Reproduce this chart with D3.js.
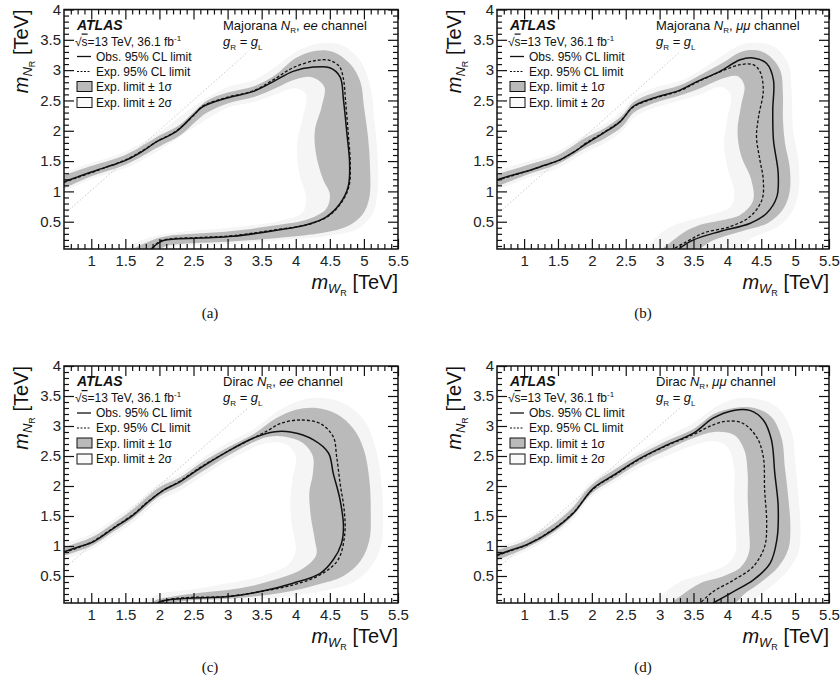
<!DOCTYPE html>
<html><head><meta charset="utf-8">
<script src="https://cdn.jsdelivr.net/npm/d3@7"></script>
<style>body{margin:0;background:#fff}svg{display:block}</style>
</head><body>
<svg id="c" width="840" height="686"></svg>
<script>
// ---------------- data ----------------
const xTicks = [1,1.5,2,2.5,3,3.5,4,4.5,5,5.5];
const yTicks = [0.5,1,1.5,2,2.5,3,3.5,4];
const panelLabels = ["(a)","(b)","(c)","(d)"];
const typeLabels = ["Majorana","Majorana","Dirac","Dirac"];
const channelLabels = ["ee","μμ","ee","μμ"];
const diagonal = [[0.6,0.62],[3.3,3.3]];

// (a) Majorana ee
const obsA = [[0.6,1.16],[0.8,1.24],[1.08,1.35],[1.3,1.43],[1.52,1.52],[1.75,1.66],[1.96,1.82],[2.25,1.99],[2.5,2.26],[2.64,2.40],[2.99,2.54],[3.38,2.65],[3.67,2.81],[3.96,2.98],[4.26,3.05],[4.5,3.04],[4.65,2.89],[4.70,2.51],[4.75,1.96],[4.79,1.46],[4.77,1.08],[4.65,0.80],[4.45,0.58],[4.16,0.45],[3.72,0.36],[3.08,0.26],[2.6,0.23],[2.06,0.19],[1.95,0.12],[1.88,0.05]];
const expA = [[0.6,1.15],[0.8,1.23],[1.08,1.34],[1.3,1.43],[1.52,1.53],[1.75,1.67],[1.96,1.82],[2.25,2.0],[2.5,2.25],[2.64,2.41],[2.99,2.55],[3.38,2.66],[3.67,2.84],[3.96,3.04],[4.3,3.16],[4.5,3.16],[4.64,3.06],[4.70,2.85],[4.73,2.5],[4.77,1.96],[4.8,1.46],[4.78,1.08],[4.66,0.8],[4.46,0.58],[4.17,0.45],[3.72,0.37],[3.08,0.27],[2.6,0.24],[2.06,0.2],[1.95,0.13],[1.9,0.05]];
const band1OuterA = [[0.6,1.27],[1.0,1.42],[1.5,1.6],[2.0,1.92],[2.3,2.1],[2.55,2.36],[2.7,2.5],[3.0,2.63],[3.4,2.74],[3.7,2.92],[4.0,3.2],[4.3,3.32],[4.55,3.3],[4.8,3.1],[4.95,2.8],[5.0,2.4],[5.06,1.9],[5.09,1.4],[5.08,0.9],[4.98,0.62],[4.75,0.42],[4.4,0.32],[3.8,0.24],[3.0,0.17],[2.4,0.14],[2.1,0.1],[2.0,0.05]];
const band1InnerA = [[0.6,1.05],[1.0,1.25],[1.5,1.44],[2.0,1.74],[2.3,1.92],[2.55,2.17],[2.7,2.3],[3.0,2.45],[3.4,2.56],[3.7,2.7],[4.0,2.85],[4.25,2.88],[4.42,2.72],[4.38,2.4],[4.28,2.0],[4.3,1.6],[4.4,1.2],[4.5,0.95],[4.45,0.72],[4.2,0.55],[3.7,0.44],[3.0,0.34],[2.5,0.3],[2.1,0.26],[1.9,0.2],[1.7,0.1],[1.62,0.05]];
const band2OuterA = [[0.6,1.32],[1.0,1.47],[1.5,1.66],[2.0,1.98],[2.5,2.4],[3.0,2.72],[3.4,2.84],[3.7,3.05],[4.0,3.3],[4.4,3.45],[4.7,3.4],[4.95,3.15],[5.1,2.7],[5.15,2.2],[5.2,1.6],[5.2,1.0],[5.12,0.62],[4.9,0.38],[4.5,0.27],[3.8,0.2],[3.0,0.13],[2.3,0.1],[2.05,0.05]];
const band2InnerA = [[0.6,1.0],[1.0,1.2],[1.5,1.38],[2.0,1.68],[2.5,2.05],[3.0,2.38],[3.4,2.48],[3.7,2.6],[4.0,2.7],[4.15,2.6],[4.1,2.2],[4.02,1.8],[4.05,1.3],[4.15,0.9],[4.1,0.65],[3.8,0.52],[3.0,0.4],[2.3,0.33],[1.9,0.25],[1.6,0.12],[1.52,0.05]];

// (b) Majorana mumu
const obsB = [[0.6,1.19],[0.8,1.26],[1.09,1.35],[1.3,1.43],[1.53,1.52],[1.75,1.66],[1.92,1.79],[2.17,1.96],[2.42,2.15],[2.61,2.40],[2.91,2.54],[3.30,2.67],[3.55,2.81],[3.89,2.98],[4.19,3.17],[4.38,3.20],[4.58,3.11],[4.68,2.84],[4.67,2.34],[4.68,1.85],[4.75,1.30],[4.73,0.91],[4.58,0.64],[4.33,0.47],[3.89,0.34],[3.50,0.20],[3.28,0.05]];
const expB = [[0.6,1.18],[0.8,1.25],[1.09,1.35],[1.3,1.43],[1.53,1.52],[1.75,1.66],[1.92,1.8],[2.17,1.97],[2.42,2.16],[2.61,2.39],[2.91,2.53],[3.30,2.66],[3.55,2.8],[3.89,2.97],[4.19,3.09],[4.38,3.09],[4.48,2.98],[4.53,2.67],[4.46,2.23],[4.43,1.90],[4.48,1.52],[4.53,1.19],[4.51,0.86],[4.33,0.58],[4.04,0.42],[3.64,0.31],[3.35,0.14],[3.2,0.05]];
const band1OuterB = [[0.6,1.28],[1.0,1.42],[1.5,1.6],[1.9,1.88],[2.2,2.05],[2.45,2.26],[2.62,2.48],[2.9,2.62],[3.3,2.75],[3.6,2.92],[3.9,3.1],[4.2,3.3],[4.4,3.33],[4.6,3.25],[4.78,3.0],[4.82,2.6],[4.82,2.2],[4.85,1.8],[4.92,1.4],[4.92,1.0],[4.82,0.7],[4.6,0.48],[4.2,0.34],[3.8,0.2],[3.55,0.05]];
const band1InnerB = [[0.6,1.08],[1.0,1.26],[1.5,1.45],[1.9,1.71],[2.2,1.88],[2.45,2.07],[2.62,2.3],[2.9,2.45],[3.3,2.58],[3.6,2.7],[3.9,2.85],[4.15,2.9],[4.25,2.75],[4.2,2.4],[4.15,2.0],[4.2,1.6],[4.35,1.2],[4.38,0.85],[4.2,0.62],[3.9,0.52],[3.6,0.45],[3.35,0.32],[3.15,0.15],[3.05,0.05]];
const band2OuterB = [[0.6,1.34],[1.0,1.48],[1.5,1.66],[1.9,1.94],[2.2,2.12],[2.45,2.33],[2.62,2.55],[2.9,2.7],[3.3,2.82],[3.6,3.0],[3.9,3.22],[4.2,3.42],[4.45,3.45],[4.7,3.38],[4.9,3.1],[4.95,2.6],[4.97,2.0],[5.05,1.5],[5.05,1.0],[4.95,0.65],[4.75,0.42],[4.4,0.25],[4.1,0.05]];
const band2InnerB = [[0.6,1.02],[1.0,1.2],[1.5,1.38],[1.9,1.64],[2.2,1.8],[2.45,2.0],[2.62,2.22],[2.9,2.37],[3.3,2.5],[3.6,2.6],[3.9,2.72],[4.05,2.6],[4.0,2.2],[3.95,1.8],[4.0,1.4],[4.1,1.0],[4.05,0.75],[3.7,0.6],[3.3,0.48],[3.0,0.3],[2.85,0.05]];

// (c) Dirac ee
const obsC = [[0.6,0.905],[0.8,0.98],[1.03,1.07],[1.32,1.29],[1.62,1.52],[1.81,1.71],[2.06,1.93],[2.30,2.07],[2.60,2.30],[2.99,2.57],[3.38,2.80],[3.67,2.90],[3.92,2.90],[4.26,2.77],[4.48,2.55],[4.55,2.21],[4.65,1.77],[4.70,1.32],[4.67,1.04],[4.55,0.77],[4.36,0.545],[3.96,0.38],[3.48,0.24],[2.99,0.155],[2.40,0.13],[2.06,0.09],[1.97,0.05]];
const expC = [[0.6,0.89],[0.8,0.97],[1.03,1.08],[1.32,1.3],[1.62,1.53],[1.81,1.72],[2.06,1.93],[2.30,2.08],[2.60,2.31],[2.99,2.57],[3.38,2.80],[3.6,2.93],[3.77,3.04],[4.06,3.10],[4.36,3.04],[4.55,2.82],[4.60,2.49],[4.65,2.05],[4.71,1.60],[4.72,1.21],[4.62,0.77],[4.36,0.52],[3.96,0.35],[3.48,0.24],[2.99,0.16],[2.40,0.14],[2.1,0.1],[2.0,0.05]];
const band1OuterC = [[0.6,0.98],[1.0,1.14],[1.3,1.36],[1.6,1.6],[2.0,1.98],[2.3,2.14],[2.6,2.38],[3.0,2.64],[3.4,2.88],[3.7,3.12],[4.0,3.27],[4.3,3.3],[4.6,3.2],[4.85,2.95],[5.0,2.6],[5.08,2.1],[5.1,1.6],[5.08,1.1],[4.95,0.75],[4.7,0.5],[4.3,0.35],[3.8,0.22],[3.0,0.12],[2.5,0.1],[2.1,0.05]];
const band1InnerC = [[0.6,0.84],[1.0,1.0],[1.3,1.22],[1.6,1.45],[2.0,1.83],[2.3,2.0],[2.6,2.22],[3.0,2.5],[3.4,2.74],[3.6,2.82],[3.85,2.82],[4.1,2.72],[4.25,2.5],[4.25,2.2],[4.2,1.9],[4.22,1.5],[4.28,1.1],[4.3,0.85],[4.1,0.62],[3.7,0.44],[3.2,0.3],[2.6,0.22],[2.2,0.16],[1.95,0.1],[1.9,0.05]];
const band2OuterC = [[0.6,1.04],[1.0,1.2],[1.3,1.42],[1.6,1.66],[2.0,2.04],[2.3,2.2],[2.6,2.44],[3.0,2.72],[3.4,2.96],[3.7,3.22],[4.0,3.4],[4.3,3.47],[4.7,3.38],[5.0,3.1],[5.18,2.6],[5.26,2.0],[5.28,1.5],[5.25,1.0],[5.1,0.65],[4.85,0.4],[4.4,0.25],[3.8,0.15],[3.0,0.08],[2.4,0.05]];
const band2InnerC = [[0.6,0.78],[1.0,0.94],[1.3,1.16],[1.6,1.38],[2.0,1.76],[2.3,1.92],[2.6,2.14],[3.0,2.42],[3.4,2.65],[3.6,2.72],[3.85,2.7],[4.0,2.5],[3.95,2.1],[3.92,1.7],[3.95,1.3],[4.0,0.95],[3.9,0.7],[3.5,0.5],[3.0,0.38],[2.5,0.28],[2.0,0.2],[1.75,0.05]];

// (d) Dirac mumu
const obsD = [[0.6,0.85],[0.8,0.93],[1.04,1.02],[1.43,1.27],[1.73,1.55],[2.02,1.96],[2.32,2.18],[2.71,2.46],[3.10,2.68],[3.50,2.88],[3.79,3.13],[4.09,3.26],[4.33,3.26],[4.53,3.10],[4.65,2.77],[4.70,2.21],[4.75,1.655],[4.73,1.10],[4.63,0.71],[4.38,0.43],[4.09,0.24],[3.79,0.05]];
const expD = [[0.6,0.84],[0.8,0.92],[1.04,1.02],[1.43,1.28],[1.73,1.56],[2.02,1.95],[2.32,2.17],[2.71,2.45],[3.10,2.67],[3.50,2.86],[3.79,3.02],[3.99,3.08],[4.22,3.05],[4.43,2.82],[4.53,2.49],[4.55,1.93],[4.58,1.38],[4.55,0.99],[4.38,0.655],[4.09,0.43],[3.79,0.24],[3.6,0.05]];
const band1OuterD = [[0.6,0.93],[1.0,1.08],[1.4,1.34],[1.7,1.62],[2.0,2.02],[2.3,2.25],[2.7,2.52],[3.1,2.75],[3.5,2.95],[3.8,3.2],[4.1,3.3],[4.4,3.3],[4.65,3.15],[4.8,2.8],[4.85,2.3],[4.9,1.8],[4.93,1.3],[4.9,0.95],[4.75,0.65],[4.5,0.4],[4.25,0.2],[4.1,0.05]];
const band1InnerD = [[0.6,0.77],[1.0,0.95],[1.4,1.2],[1.7,1.48],[2.0,1.88],[2.3,2.1],[2.7,2.38],[3.1,2.6],[3.5,2.8],[3.8,2.9],[4.1,2.85],[4.25,2.6],[4.3,2.2],[4.3,1.8],[4.32,1.3],[4.32,0.9],[4.2,0.65],[3.95,0.5],[3.6,0.38],[3.35,0.2],[3.2,0.05]];
const band2OuterD = [[0.6,0.98],[1.0,1.13],[1.4,1.4],[1.7,1.68],[2.0,2.08],[2.3,2.3],[2.7,2.58],[3.1,2.82],[3.5,3.05],[3.8,3.3],[4.1,3.45],[4.45,3.45],[4.75,3.3],[4.95,2.9],[5.0,2.4],[5.05,1.8],[5.08,1.3],[5.05,0.9],[4.9,0.6],[4.7,0.38],[4.45,0.15],[4.35,0.05]];
const band2InnerD = [[0.6,0.72],[1.0,0.9],[1.4,1.14],[1.7,1.42],[2.0,1.82],[2.3,2.04],[2.7,2.3],[3.1,2.5],[3.5,2.68],[3.8,2.75],[4.0,2.65],[4.1,2.3],[4.1,1.8],[4.12,1.3],[4.12,0.9],[4.0,0.7],[3.7,0.55],[3.3,0.4],[3.05,0.2],[2.95,0.05]];

// ---------------- layout ----------------
const frames = [
  {x0:64, x1:398, y0:9.5, y1:249},
  {x0:497, x1:829, y0:9.5, y1:249},
  {x0:64, x1:398, y0:366, y1:603},
  {x0:497, x1:829, y0:366, y1:603}
];
const panels = [
  {obs:obsA, exp:expA, b1o:band1OuterA, b1i:band1InnerA, b2o:band2OuterA, b2i:band2InnerA},
  {obs:obsB, exp:expB, b1o:band1OuterB, b1i:band1InnerB, b2o:band2OuterB, b2i:band2InnerB},
  {obs:obsC, exp:expC, b1o:band1OuterC, b1i:band1InnerC, b2o:band2OuterC, b2i:band2InnerC},
  {obs:obsD, exp:expD, b1o:band1OuterD, b1i:band1InnerD, b2o:band2OuterD, b2i:band2InnerD}
];

const FONT = "'Liberation Sans', Arial, Helvetica, sans-serif";
const SERIF = "'Liberation Serif', 'Times New Roman', serif";
const C1 = "#bababa", C2 = "#f5f5f5";
const svg = d3.select("#c");

function rich(t, parts){
  parts.forEach(p=>{
    const ts = t.append("tspan").text(p.t);
    if(p.i) ts.attr("font-style","italic");
    if(p.s) ts.attr("font-size", p.s);
    if(p.dy) ts.attr("dy", p.dy);
    if(p.o) ts.attr("text-decoration","overline");
  });
}

panels.forEach((p, k)=>{
  const f = frames[k];
  const x = d3.scaleLinear().domain([0.6,5.5]).range([f.x0,f.x1]);
  const y = d3.scaleLinear().domain([0.05,4]).range([f.y1,f.y0]);
  const g = svg.append("g");
  const cid = "clip"+k;
  g.append("clipPath").attr("id",cid).append("rect")
    .attr("x",f.x0).attr("y",f.y0).attr("width",f.x1-f.x0).attr("height",f.y1-f.y0);
  const plot = g.append("g").attr("clip-path",`url(#${cid})`);
  const curve = d3.line().x(d=>x(d[0])).y(d=>y(d[1])).curve(d3.curveCatmullRom.alpha(0.5));
  const band = (o,i)=> curve(o.concat(i.slice().reverse())) + "Z";

  plot.append("path").attr("d", band(p.b2o,p.b2i)).attr("fill",C2).attr("stroke","none");
  plot.append("path").attr("d", band(p.b1o,p.b1i)).attr("fill",C1).attr("stroke","none");
  plot.append("path").attr("d", d3.line().x(d=>x(d[0])).y(d=>y(d[1]))(diagonal))
    .attr("fill","none").attr("stroke","#c8c8c8").attr("stroke-width",1).attr("stroke-dasharray","1.5,2");
  plot.append("path").attr("d", curve(p.exp)).attr("fill","none").attr("stroke","#111")
    .attr("stroke-width",1.3).attr("stroke-dasharray","3,2");
  plot.append("path").attr("d", curve(p.obs)).attr("fill","none").attr("stroke","#111").attr("stroke-width",1.5);

  // axes with inward ticks
  const minorX = d3.range(0.7,5.45,0.1).map(v=>+v.toFixed(2)).filter(v=>Math.abs(v*2-Math.round(v*2))>1e-6);
  const minorY = d3.range(0.1,3.95,0.1).map(v=>+v.toFixed(2)).filter(v=>Math.abs(v*2-Math.round(v*2))>1e-6);
  const styleAxis = a => { a.select(".domain").remove(); a.selectAll("line").attr("stroke","#111").attr("stroke-width",1.2);
     a.selectAll("text").attr("font-family",FONT).attr("font-size",15).attr("fill","#222"); };
  g.append("g").attr("transform",`translate(0,${f.y1})`)
    .call(d3.axisBottom(x).tickValues(xTicks).tickSize(-10).tickPadding(6).tickFormat(d3.format("")))
    .call(styleAxis);
  g.append("g").attr("transform",`translate(0,${f.y1})`)
    .call(d3.axisBottom(x).tickValues(minorX).tickSize(-5).tickFormat("")).call(styleAxis);
  g.append("g").attr("transform",`translate(0,${f.y0})`)
    .call(d3.axisTop(x).tickValues(xTicks).tickSize(-10).tickFormat("")).call(styleAxis);
  g.append("g").attr("transform",`translate(0,${f.y0})`)
    .call(d3.axisTop(x).tickValues(minorX).tickSize(-5).tickFormat("")).call(styleAxis);
  g.append("g").attr("transform",`translate(${f.x0},0)`)
    .call(d3.axisLeft(y).tickValues(yTicks).tickSize(-10).tickPadding(3).tickFormat(d3.format("")))
    .call(styleAxis);
  g.append("g").attr("transform",`translate(${f.x0},0)`)
    .call(d3.axisLeft(y).tickValues(minorY).tickSize(-5).tickFormat("")).call(styleAxis);
  g.append("g").attr("transform",`translate(${f.x1},0)`)
    .call(d3.axisRight(y).tickValues(yTicks).tickSize(-10).tickFormat("")).call(styleAxis);
  g.append("g").attr("transform",`translate(${f.x1},0)`)
    .call(d3.axisRight(y).tickValues(minorY).tickSize(-5).tickFormat("")).call(styleAxis);
  g.append("rect").attr("x",f.x0).attr("y",f.y0).attr("width",f.x1-f.x0).attr("height",f.y1-f.y0)
    .attr("fill","none").attr("stroke","#111").attr("stroke-width",1.5);

  // axis titles
  const yt = g.append("text").attr("transform",`translate(${f.x0-36},${f.y0}) rotate(-90)`)
    .attr("text-anchor","end").attr("font-family",FONT).attr("font-size",20).attr("fill","#111");
  rich(yt,[{t:"m",i:1},{t:"N",i:1,s:13,dy:4},{t:"R",s:9,dy:3},{t:" [TeV]",s:20,dy:-7}]);
  const xt = g.append("text").attr("x",f.x1).attr("y",f.y1+40)
    .attr("text-anchor","end").attr("font-family",FONT).attr("font-size",20).attr("fill","#111");
  rich(xt,[{t:"m",i:1},{t:"W",i:1,s:13,dy:4},{t:"R",s:9,dy:3},{t:" [TeV]",s:20,dy:-7}]);

  // caption
  g.append("text").attr("x",f.x0+146).attr("y",f.y1+69).attr("text-anchor","middle")
    .attr("font-family",SERIF).attr("font-size",15).attr("fill","#111").text(panelLabels[k]);

  // legend block
  const lx = f.x0+13, ly = f.y0;
  g.append("text").attr("x",lx).attr("y",ly+20).attr("font-family",FONT).attr("font-size",14)
    .attr("font-weight","bold").attr("font-style","italic").attr("fill","#111").text("ATLAS");
  const st = g.append("text").attr("x",lx-2).attr("y",ly+36).attr("font-family",FONT).attr("font-size",12).attr("fill","#111");
  rich(st,[{t:"√"},{t:"s",o:1},{t:"=13 TeV, 36.1 fb"},{t:"-1",s:8,dy:-5}]);
  g.append("line").attr("x1",lx).attr("x2",lx+14).attr("y1",ly+47).attr("y2",ly+47).attr("stroke","#111").attr("stroke-width",1.3);
  g.append("text").attr("x",lx+19).attr("y",ly+51).attr("font-family",FONT).attr("font-size",12).attr("fill","#111").text("Obs. 95% CL limit");
  g.append("line").attr("x1",lx).attr("x2",lx+14).attr("y1",ly+62).attr("y2",ly+62).attr("stroke","#111").attr("stroke-width",1.2).attr("stroke-dasharray","2,1.5");
  g.append("text").attr("x",lx+19).attr("y",ly+66).attr("font-family",FONT).attr("font-size",12).attr("fill","#111").text("Exp. 95% CL limit");
  g.append("rect").attr("x",lx).attr("y",ly+72).attr("width",15).attr("height",10).attr("fill",C1).attr("stroke","#111").attr("stroke-width",1);
  g.append("text").attr("x",lx+19).attr("y",ly+81.5).attr("font-family",FONT).attr("font-size",12).attr("fill","#111").text("Exp. limit ± 1σ");
  g.append("rect").attr("x",lx).attr("y",ly+88).attr("width",15).attr("height",10).attr("fill","#fafafa").attr("stroke","#111").attr("stroke-width",1);
  g.append("text").attr("x",lx+19).attr("y",ly+97).attr("font-family",FONT).attr("font-size",12).attr("fill","#111").text("Exp. limit ± 2σ");

  // right-hand labels
  const rx = f.x0+159;
  const t1 = g.append("text").attr("x",rx).attr("y",ly+20).attr("font-family",FONT).attr("font-size",13).attr("fill","#111");
  rich(t1,[{t:typeLabels[k]+" "},{t:"N",i:1},{t:"R",s:8,dy:3},{t:", ",s:13,dy:-3},{t:channelLabels[k],i:1},{t:" channel"}]);
  const t2 = g.append("text").attr("x",rx).attr("y",ly+36).attr("font-family",FONT).attr("font-size",13).attr("fill","#111");
  rich(t2,[{t:"g",i:1},{t:"R",s:8,dy:4},{t:" = ",s:13,dy:-4},{t:"g",i:1},{t:"L",s:8,dy:4}]);
});
</script>
</body></html>
